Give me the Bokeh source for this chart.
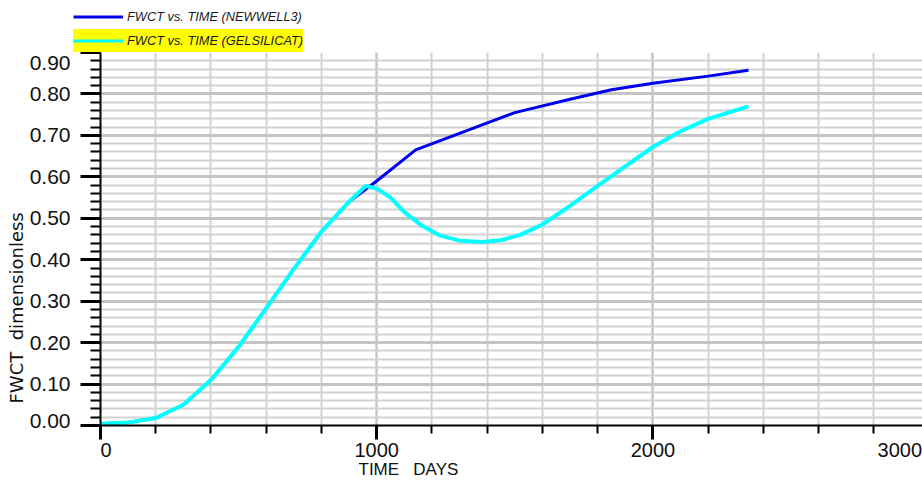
import numpy as np

from bokeh.plotting import figure
from bokeh.layouts import column
from bokeh.models import (Range1d, FixedTicker, LinearAxis, Title,
                          Legend, LegendItem)
from bokeh.embed import file_html
from bokeh.resources import INLINE

# Water cut history, base case well
days_newwell = [0, 100, 200, 300, 400, 500, 600, 700, 800, 900, 1000,
                1141, 1300, 1500, 1700, 1850, 2000, 2200, 2346]
fwct_newwell = [0.004, 0.007, 0.018, 0.05, 0.11, 0.19, 0.283, 0.378, 0.468,
                0.54, 0.59, 0.665, 0.705, 0.755, 0.787, 0.81, 0.826, 0.843, 0.857]

# Water cut history, gel silicate treatment
days_gel = [0, 100, 200, 300, 400, 500, 600, 700, 800, 900, 960, 1000,
            1050, 1100, 1160, 1230, 1300, 1380, 1450, 1520, 1600, 1700,
            1800, 1900, 2000, 2100, 2200, 2346]
fwct_gel = [0.004, 0.007, 0.018, 0.05, 0.11, 0.19, 0.283, 0.378, 0.468,
            0.54, 0.578, 0.572, 0.55, 0.515, 0.484, 0.458, 0.446, 0.443,
            0.447, 0.46, 0.485, 0.53, 0.578, 0.625, 0.672, 0.71, 0.74, 0.77]

series_labels = ["FWCT vs. TIME (NEWWELL3)", "FWCT vs. TIME (GELSILICAT)"]
series_colors = ["#0000f0", "#00ffff"]
series_widths = [3, 4]

# tick marks
x_major = [0, 1000, 2000, 3000]
x_minor = list(range(0, 3001, 200))
y_major = [0.0, 0.1, 0.2, 0.3, 0.4, 0.5, 0.6, 0.7, 0.8, 0.9]
y_minor = [round(v, 2) for v in np.arange(0, 0.901, 0.02)]

# tick labels; the end labels are nudged inward so they stay on the page
x_tick_labels = ["0", "1000", "2000", "3000"]
x_label_pos = [20, 1000, 2000, 2894]
y_tick_labels = ["0.00", "0.10", "0.20", "0.30", "0.40", "0.50",
                 "0.60", "0.70", "0.80", "0.90"]
y_label_pos = [0.012, 0.1, 0.2, 0.3, 0.4, 0.5, 0.6, 0.7, 0.8, 0.874]

NBSP = "\u00a0"
x_title = "TIME" + NBSP * 3 + "DAYS"
y_title = "FWCT" + NBSP * 2 + "dimensionless"

TICK_FONT = "Liberation Sans"
TEXT_COLOR = "#111111"
W, H, LEGEND_H = 922, 483, 52

# ---- legend strip above the plot ----
lg = figure(width=W, height=LEGEND_H, output_backend="svg", toolbar_location=None,
            x_range=Range1d(0, W), y_range=Range1d(0, LEGEND_H),
            x_axis_location=None, y_axis_location=None, min_border=0)
lg.frame_align = False
lg.outline_line_color = None
lg.grid.visible = False
# one-point renderers: nothing is drawn in the strip, they only style the swatches
swatches = [lg.line(days_newwell[:1], fwct_newwell[:1], line_color=series_colors[0], line_width=3),
            lg.line(days_gel[:1], fwct_gel[:1], line_color=series_colors[1], line_width=3)]

legend_style = dict(padding=0, margin=0, spacing=0, glyph_width=50,
                    glyph_height=23, label_height=23, label_standoff=4,
                    border_line_alpha=0,
                    label_text_font="Liberation Sans",
                    label_text_font_style="italic",
                    label_text_font_size="12.8px",
                    label_text_color="#1a1a2a")
leg1 = Legend(items=[LegendItem(label=series_labels[0], renderers=[swatches[0]])],
              location=(73, 24), background_fill_alpha=0, **legend_style)
leg2 = Legend(items=[LegendItem(label=series_labels[1], renderers=[swatches[1]])],
              location=(73, 0), background_fill_color="#ffff00",
              background_fill_alpha=1, **legend_style)
lg.add_layout(leg1)
lg.add_layout(leg2)

# ---- main plot ----
p = figure(width=W, height=H - LEGEND_H, output_backend="svg", toolbar_location=None,
           x_range=Range1d(0, 2976), y_range=Range1d(0, 0.9),
           x_axis_location=None, y_axis_location=None,
           min_border_left=100, min_border_right=0,
           min_border_top=0, min_border_bottom=58)
p.frame_align = False
p.background_fill_color = "white"
p.border_fill_color = "white"
p.outline_line_color = None

xt = FixedTicker(ticks=x_major, minor_ticks=x_minor)
yt = FixedTicker(ticks=y_major, minor_ticks=y_minor)

# tick-mark axes (labels switched off)
tick_axis_style = dict(axis_line_width=2, axis_line_color="black",
                       major_tick_line_width=3, major_tick_in=0,
                       minor_tick_line_width=2, minor_tick_in=0,
                       major_label_text_font_size="0px",
                       major_label_text_color=None, major_label_standoff=0)
xa = LinearAxis(ticker=xt, major_tick_out=14, minor_tick_out=8, **tick_axis_style)
ya = LinearAxis(ticker=yt, major_tick_out=20, minor_tick_out=10, **tick_axis_style)
p.add_layout(xa, "below")
p.add_layout(ya, "left")

# label-only axes
label_axis_style = dict(axis_line_color=None, major_tick_line_color=None,
                        minor_tick_line_color=None, major_tick_out=0,
                        major_tick_in=0, minor_tick_out=0, minor_tick_in=0,
                        major_label_text_font=TICK_FONT,
                        major_label_text_color=TEXT_COLOR)
xl = LinearAxis(ticker=FixedTicker(ticks=x_label_pos, minor_ticks=[]),
                major_label_overrides=dict(zip(x_label_pos, x_tick_labels)),
                major_label_standoff=3, major_label_text_font_size="20px",
                **label_axis_style)
yl = LinearAxis(ticker=FixedTicker(ticks=y_label_pos, minor_ticks=[]),
                major_label_overrides=dict(zip(y_label_pos, y_tick_labels)),
                major_label_standoff=10, major_label_text_font_size="21px",
                **label_axis_style)
p.add_layout(xl, "below")
p.add_layout(yl, "left")

# grid
p.xgrid.ticker = xt
p.ygrid.ticker = yt
p.xgrid.grid_line_color = "#c4c4c4"
p.xgrid.grid_line_width = 2
p.xgrid.minor_grid_line_color = "#d2d2d2"
p.xgrid.minor_grid_line_width = 2
p.ygrid.grid_line_color = "#c4c4c4"
p.ygrid.grid_line_width = 3
p.ygrid.minor_grid_line_color = "#d2d2d2"
p.ygrid.minor_grid_line_width = 2

# axis titles
p.add_layout(Title(text=x_title, align="left", offset=258, standoff=-3,
                   text_font=TICK_FONT, text_font_size="17px",
                   text_font_style="normal", text_color=TEXT_COLOR), "below")
p.add_layout(Title(text=y_title, align="left", offset=22,
                   standoff=0, text_font="DejaVu Sans", text_font_size="18px",
                   text_font_style="normal", text_color=TEXT_COLOR), "left")

# curves
p.line(days_newwell, fwct_newwell, line_color=series_colors[0],
       line_width=series_widths[0])
p.line(days_gel, fwct_gel, line_color=series_colors[1],
       line_width=series_widths[1])

layout = column(lg, p, spacing=0)
open("out.html", "w").write(file_html(layout, INLINE))
